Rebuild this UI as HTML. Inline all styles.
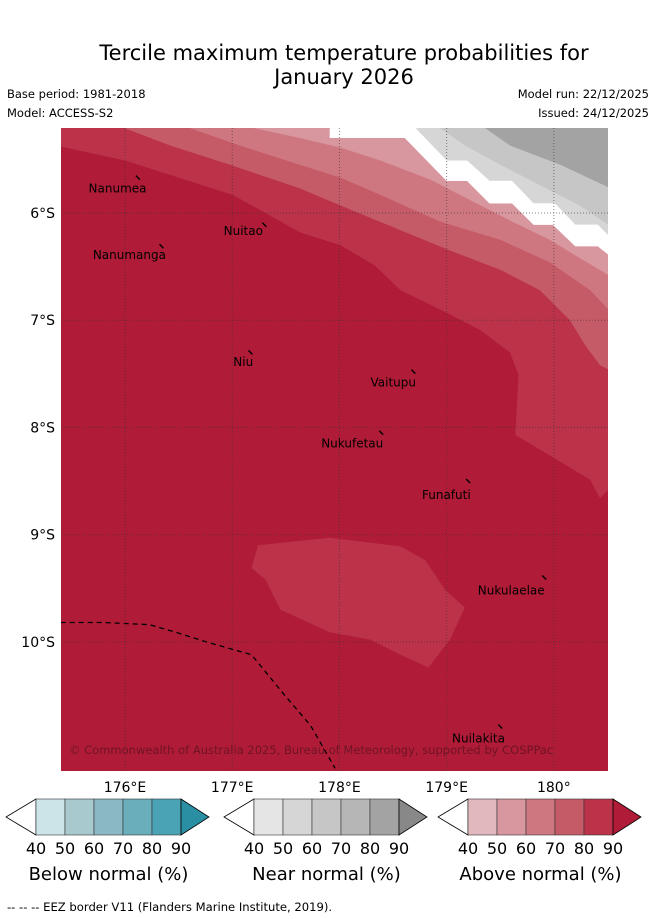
<!DOCTYPE html>
<html><head><meta charset="utf-8"><style>
body{margin:0;width:655px;height:919px;background:#fff;overflow:hidden;font-family:"Liberation Sans","DejaVu Sans",sans-serif;}
svg{position:absolute;left:0;top:0}
</style></head><body>
<svg id="chart" width="655" height="919" font-family="DejaVu Sans, Liberation Sans, sans-serif"></svg>
<script>
// axis geometry
const lonMin=175.403, lonMax=180.505, latTop=-5.207, latBot=-11.205;
const lonTicks=[176,177,178,179,180];
const lonTickLabels=["176°E","177°E","178°E","179°E","180°"];
const latTicks=[-6,-7,-8,-9,-10];
const latTickLabels=["6°S","7°S","8°S","9°S","10°S"];
// contour boundaries [lon,lat]
const bound90=[[175.40,-5.38],[176.00,-5.51],[177.00,-5.83],[177.35,-6.02],[177.63,-6.18],[178.01,-6.30],[178.33,-6.49],[178.57,-6.72],[178.94,-6.90],[179.31,-7.09],[179.59,-7.30],[179.67,-7.51],[179.64,-8.07],[179.96,-8.26],[180.34,-8.49],[180.43,-8.66],[180.51,-8.58]];
const bound80=[[176.00,-5.21],[176.42,-5.37],[176.98,-5.55],[177.63,-5.77],[178.01,-5.93],[178.57,-6.16],[179.03,-6.35],[179.50,-6.53],[179.87,-6.72],[180.15,-7.00],[180.29,-7.23],[180.43,-7.42],[180.51,-7.46]];
const bound70=[[176.61,-5.21],[177.07,-5.37],[177.63,-5.55],[178.01,-5.67],[178.38,-5.83],[178.94,-6.08],[179.50,-6.25],[179.96,-6.46],[180.34,-6.72],[180.51,-6.90]];
const bound60=[[177.21,-5.21],[177.63,-5.30],[178.01,-5.39],[178.38,-5.51],[178.85,-5.69],[179.22,-5.88],[179.59,-6.07],[179.96,-6.25],[180.24,-6.42],[180.51,-6.58]];
const whiteBand=[[177.91,-5.21],[177.91,-5.30],[178.61,-5.30],[179.00,-5.70],[179.19,-5.70],[179.40,-5.91],[179.61,-5.91],[179.81,-6.11],[179.99,-6.11],[180.20,-6.31],[180.41,-6.31],[180.51,-6.39],[180.51,-6.21],[180.41,-6.11],[180.20,-6.11],[180.01,-5.91],[179.81,-5.91],[179.61,-5.70],[179.40,-5.70],[179.19,-5.51],[179.00,-5.51],[178.71,-5.21]];
const grayLight=[[178.71,-5.21],[179.00,-5.51],[179.19,-5.51],[179.40,-5.70],[179.61,-5.70],[179.81,-5.91],[180.01,-5.91],[180.20,-6.11],[180.41,-6.11],[180.51,-6.21],[180.6,-5.1]];
const grayMid=[[178.94,-5.21],[179.17,-5.37],[179.50,-5.55],[179.87,-5.74],[180.24,-5.93],[180.51,-6.11]];
const grayDark=[[179.36,-5.21],[179.59,-5.37],[180.06,-5.55],[180.51,-5.76]];
const blob80=[[177.24,-9.10],[177.91,-9.03],[178.57,-9.11],[178.80,-9.24],[178.99,-9.52],[179.17,-9.68],[179.03,-9.98],[178.83,-10.24],[178.57,-10.12],[178.29,-9.98],[177.91,-9.91],[177.45,-9.70],[177.31,-9.42],[177.18,-9.31]];
const eez=[[175.40,-9.82],[175.81,-9.82],[176.23,-9.84],[176.47,-9.91],[176.79,-10.01],[177.18,-10.12],[177.49,-10.50],[177.73,-10.78],[177.96,-11.18]];
const islandNames=["Nanumea","Nanumanga","Nuitao","Niu","Vaitupu","Nukufetau","Funafuti","Nukulaelae","Nuilakita"];
const labelLon=[175.66,175.70,176.92,177.01,178.29,177.83,178.77,179.29,179.05];
const labelLat=[-5.77,-6.39,-6.17,-7.39,-7.58,-8.15,-8.63,-9.52,-10.90];
const islandLon=[176.12,176.34,177.30,177.17,178.69,178.39,179.20,179.91,179.50];
const islandLat=[-5.67,-6.31,-6.11,-7.30,-7.48,-8.05,-8.50,-9.40,-10.79];
const cbTicks=[40,50,60,70,80,90];
const blues=["#cce3e8","#a8c9cd","#8ab8c4","#6aaebc","#4aa3b4"], blueHi="#2b8fa3";
const grays=["#e5e5e5","#d6d6d6","#c6c6c6","#b6b6b6","#a3a3a3"], grayHi="#888888";
const reds=["#e2b8bf","#d8969e","#cf7780","#c65b68","#bb3249"], redHi="#b01c37";

const X0=61,X1=608,Y0=128,Y1=771;
const x=lon=>X0+(lon-lonMin)/(lonMax-lonMin)*(X1-X0);
const y=lat=>Y0+(latTop-lat)/(latTop-latBot)*(Y1-Y0);
const svg=document.getElementById('chart');
const NS="http://www.w3.org/2000/svg";
function mk(tag,attrs,parent){const e=document.createElementNS(NS,tag);for(const k in attrs)e.setAttribute(k,attrs[k]);(parent||svg).appendChild(e);return e;}
function txt(s,attrs){const e=mk('text',attrs);e.textContent=s;return e;}
const pts=a=>a.map(p=>x(p[0]).toFixed(1)+","+y(p[1]).toFixed(1)).join(" ");

// title & header
let t;
t=txt("Tercile maximum temperature probabilities for",{x:344,y:60,'font-size':21,'text-anchor':'middle'});


t=txt("January 2026",{x:344,y:84,'font-size':21,'text-anchor':'middle'});


const hdr=[["Base period: 1981-2018",7,98,'start','base-period'],["Model: ACCESS-S2",7,117,'start','model-name'],["Model run: 22/12/2025",649,98,'end','model-run'],["Issued: 24/12/2025",649,117,'end','issued-date']];
hdr.forEach(h=>{const e=txt(h[0],{x:h[1],y:h[2],'font-size':11.5,'text-anchor':h[3]});

});

// map
const clip=mk('clipPath',{id:'plotclip'});mk('rect',{x:X0,y:Y0,width:X1-X0,height:Y1-Y0},clip);
const g=mk('g',{'clip-path':'url(#plotclip)'});


let r=mk('rect',{x:X0,y:Y0,width:X1-X0,height:Y1-Y0,fill:redHi},g);


const TR=[[lonMax+0.1,latTop+0.1]];
function band(line,fill,name,closeTR){const p=mk('polygon',{points:pts(closeTR?line.concat(TR).concat([[line[0][0],latTop+0.1]]):line),fill:fill},g);

}
band(bound90.concat([[lonMax+0.1,bound90[bound90.length-1][1]],[lonMax+0.1,latTop+0.1],[lonMin-0.1,latTop+0.1],[lonMin-0.1,bound90[0][1]]]),reds[4],'above-normal-80-band',false);
band(bound80,reds[3],'above-normal-70-band',true);
band(bound70,reds[2],'above-normal-60-band',true);
band(bound60,reds[1],'above-normal-50-band',true);
band(whiteBand.slice(0,12).concat([[lonMax+0.1,latTop+0.1]]),'#ffffff','gray-zone',false);
band(grayLight,grays[1],'near-normal-50-band',false);
band(grayMid,grays[2],'near-normal-60-band',true);
band(grayDark,grays[4],'near-normal-80-band',true);
band(whiteBand,'#ffffff','no-dominant-band',false);
band(blob80,reds[4],'above-normal-80-blob',false);
// grid
lonTicks.forEach((v,i)=>{const l=mk('line',{x1:x(v),x2:x(v),y1:Y0,y2:Y1,stroke:'#333','stroke-opacity':0.6,'stroke-width':1,'stroke-dasharray':'1,2'});


const e=txt(lonTickLabels[i],{x:x(v),y:792,'font-size':14,'text-anchor':'middle'});

});
latTicks.forEach((v,i)=>{const l=mk('line',{x1:X0,x2:X1,y1:y(v),y2:y(v),stroke:'#333','stroke-opacity':0.6,'stroke-width':1,'stroke-dasharray':'1,2'});


const e=txt(latTickLabels[i],{x:55,y:y(v)+5,'font-size':14,'text-anchor':'end'});

});
// EEZ
const ez=mk('polyline',{points:pts(eez),fill:'none',stroke:'#000','stroke-width':1.3,'stroke-dasharray':'5,4'},g);


// islands
islandNames.forEach((n,i)=>{const px=x(islandLon[i]),py=y(islandLat[i]);
const m=mk('line',{x1:px-2,y1:py-2,x2:px+2,y2:py+2,stroke:'#000','stroke-width':1.4});


const e=txt(n,{x:x(labelLon[i]),y:y(labelLat[i])+4,'font-size':12,'text-anchor':'start'});

});
t=txt("© Commonwealth of Australia 2025, Bureau of Meteorology, supported by COSPPac",{x:69,y:754,'font-size':11.5,fill:'#5a1020','fill-opacity':0.75});



// colorbars
function colorbar(x0,cols,hi,title,name){const gg=mk('g',{});


const w=29,top=799,bot=835,mid=817;
mk('polygon',{points:`${x0},${top} ${x0-30},${mid} ${x0},${bot}`,fill:'#fff',stroke:'#000','stroke-width':0.8},gg);
cols.forEach((c,i)=>mk('rect',{x:x0+i*w,y:top,width:w,height:bot-top,fill:c,stroke:'#333','stroke-width':0.6},gg));
mk('polygon',{points:`${x0+5*w},${top} ${x0+5*w+28},${mid} ${x0+5*w},${bot}`,fill:hi,stroke:'#000','stroke-width':0.8},gg);
cbTicks.forEach((v,i)=>{const e=mk('text',{x:x0+i*w,y:854,'font-size':16,'text-anchor':'middle'},gg);e.textContent=v;});
const e=mk('text',{x:x0+2.5*w,y:880,'font-size':18,'text-anchor':'middle'},gg);e.textContent=title;}
colorbar(36,blues,blueHi,"Below normal (%)",'below-normal-colorbar');
colorbar(254,grays,grayHi,"Near normal (%)",'near-normal-colorbar');
colorbar(468,reds,redHi,"Above normal (%)",'above-normal-colorbar');
t=txt("--  --  -- EEZ border V11 (Flanders Marine Institute, 2019).",{x:7,y:911,'font-size':11.6});


</script>
</body></html>
